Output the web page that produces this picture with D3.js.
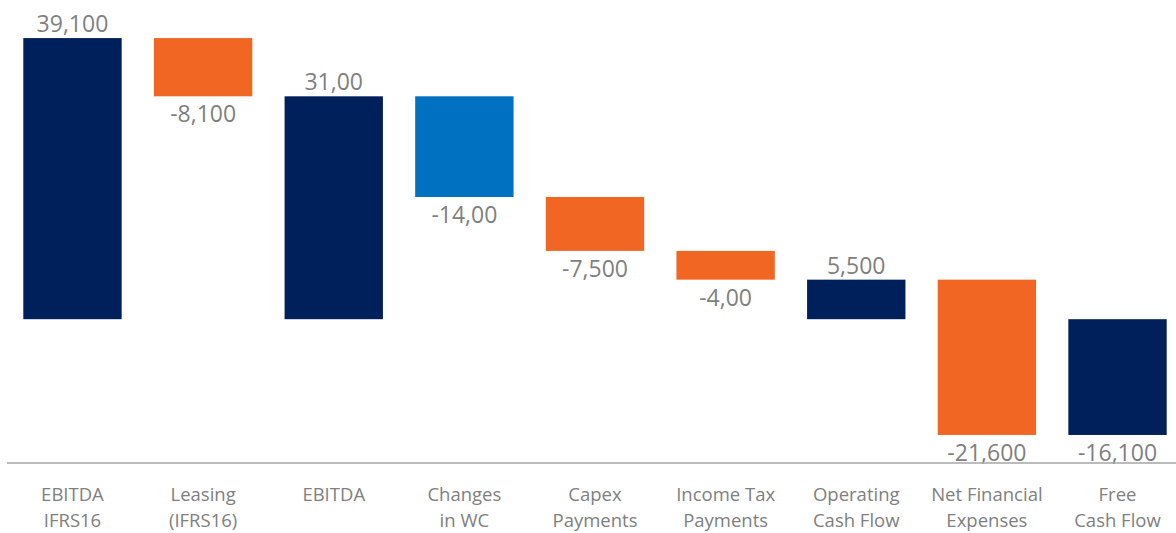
<!DOCTYPE html>
<html>
<head>
<meta charset="utf-8">
<script src="https://cdn.jsdelivr.net/npm/d3@7"></script>
<style>
  html, body { margin: 0; padding: 0; background: #fff; }
  svg { display: block; font-family: "Open Sans", sans-serif; }
</style>
</head>
<body>
<svg id="chart" width="1176" height="533"></svg>
<script>
// Waterfall: EBITDA IFRS16 down to Free Cash Flow
const categories = [
  ["EBITDA", "IFRS16"],
  ["Leasing", "(IFRS16)"],
  ["EBITDA"],
  ["Changes", "in WC"],
  ["Capex", "Payments"],
  ["Income Tax", "Payments"],
  ["Operating", "Cash Flow"],
  ["Net Financial", "Expenses"],
  ["Free", "Cash Flow"]
];
const values = [39100, -8100, 31000, -14000, -7500, -4000, 5500, -21600, -16100];
const kinds  = ["total", "delta", "total", "delta", "delta", "delta", "total", "delta", "total"];
const valueLabels = ["39,100", "-8,100", "31,00", "-14,00", "-7,500", "-4,00", "5,500", "-21,600", "-16,100"];
const barColors = ["#00205B", "#F26624", "#00205B", "#0070C0", "#F26624", "#F26624", "#00205B", "#F26624", "#00205B"];

const VW = 1176, VH = 533;
const svg = d3.select("#chart");

// running sum -> bar start/end
let run = 0;
const bars = values.map((v, i) => {
  let y0, y1;
  if (kinds[i] === "total") { y0 = 0; y1 = v; run = v; }
  else { y0 = run; y1 = run + v; run = y1; }
  return { i, v, y0, y1, label: valueLabels[i], color: barColors[i], cat: categories[i] };
});

const x = d3.scaleBand().domain(d3.range(values.length))
  .range([23.3, 1166.7]).paddingInner(0.247).paddingOuter(0);
const y = d3.scaleLinear().domain([-20000, 40000]).range([463, 31.6]);

// bars
svg.append("g").selectAll("rect")
  .data(bars)
  .join("rect")
  .attr("x", d => x(d.i))
  .attr("y", d => y(Math.max(d.y0, d.y1)))
  .attr("width", x.bandwidth())
  .attr("height", d => Math.abs(y(d.y0) - y(d.y1)))
  .attr("fill", d => d.color);

// value labels: above for positive, below for negative
svg.append("g").selectAll("text")
  .data(bars)
  .join("text")
  .attr("x", d => x(d.i) + x.bandwidth() / 2)
  .attr("y", d => d.v > 0 ? y(Math.max(d.y0, d.y1)) - 6 : y(Math.min(d.y0, d.y1)) + 26)
  .attr("text-anchor", "middle")
  .attr("font-size", "23px")
  .attr("fill", "#808080")
  .text(d => d.label);

// baseline
svg.append("line")
  .attr("x1", 7).attr("x2", VW)
  .attr("y1", y(-20000)).attr("y2", y(-20000))
  .attr("stroke", "#a6a6a6").attr("stroke-width", 1.5);

// category labels
const cat = svg.append("g").selectAll("text")
  .data(bars)
  .join("text")
  .attr("text-anchor", "middle")
  .attr("font-size", "18.5px")
  .attr("fill", "#808080");
cat.selectAll("tspan")
  .data(d => d.cat.map(t => ({ t, cx: x(d.i) + x.bandwidth() / 2 })))
  .join("tspan")
  .attr("x", d => d.cx)
  .attr("y", (d, j) => 501 + j * 26)
  .text(d => d.t);
</script>
</body>
</html>
